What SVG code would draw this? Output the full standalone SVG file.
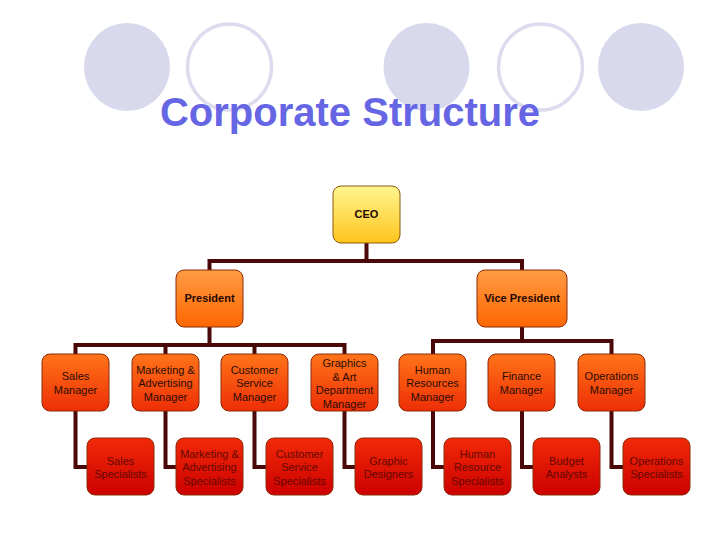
<svg xmlns="http://www.w3.org/2000/svg" width="720" height="540" viewBox="0 0 720 540">
<defs>
<linearGradient id="gCeo" x1="0" y1="0" x2="0" y2="1"><stop offset="0" stop-color="#fff690"/><stop offset="1" stop-color="#ffc41c"/></linearGradient>
<linearGradient id="gPres" x1="0" y1="0" x2="0" y2="1"><stop offset="0" stop-color="#ff9c44"/><stop offset="1" stop-color="#ff6600"/></linearGradient>
<linearGradient id="gMgr" x1="0" y1="0" x2="0" y2="1"><stop offset="0" stop-color="#ff7418"/><stop offset="1" stop-color="#ee2e06"/></linearGradient>
<linearGradient id="gSpec" x1="0" y1="0" x2="0" y2="1"><stop offset="0" stop-color="#f22a08"/><stop offset="1" stop-color="#cc0000"/></linearGradient>
</defs>
<style>
.dot{fill:#d9d9ee}
.ring{fill:#ffffff;stroke:#dcdcee;stroke-width:3.5}
.title{font-family:"Liberation Sans",Arial,sans-serif;font-weight:bold;font-size:40px;fill:#6666e4}
.box{stroke:#8a2a08;stroke-width:1}
.ceo{fill:url(#gCeo);stroke:#8a5a10}
.pres{fill:url(#gPres)}
.mgr{fill:url(#gMgr)}
.spec{fill:url(#gSpec)}
text.t{font-family:"Liberation Sans",Arial,sans-serif;font-size:11px;text-anchor:middle;fill:#2a0c00}
text.b{font-weight:bold;fill:#1e0800}
text.s{fill:#640800}
.con{fill:none;stroke:#4a0808;stroke-width:4}
</style>
<rect width="720" height="540" fill="#ffffff"/>
<g id="decor">
<ellipse class="dot" cx="127" cy="67" rx="43" ry="44"/>
<ellipse class="ring" cx="229.5" cy="67" rx="42" ry="43"/>
<ellipse class="dot" cx="426.5" cy="67" rx="43" ry="44"/>
<ellipse class="ring" cx="540.5" cy="67" rx="42" ry="43"/>
<ellipse class="dot" cx="641" cy="67" rx="43" ry="44"/>
</g>
<text class="title" x="350" y="126" text-anchor="middle">Corporate Structure</text>
<g id="connectors">
<path class="con" d="M366.5 243 V261 M209.5 261 H522 M209.5 259 V270 M522 259 V270"/>
<path class="con" d="M209.5 327 V345 M75.5 345 H344.5 M75.5 343 V354 M165.5 343 V354 M254.5 343 V354 M344.5 343 V354"/>
<path class="con" d="M522 327 V341 M433 341 H611.5 M433 339 V354 M611.5 339 V354"/>
<path class="con" d="M75.5 411 V467 H87 M165.5 411 V467 H176 M254.5 411 V467 H266 M344.5 411 V467 H355 M433 411 V467 H444 M522 411 V467 H533 M611.5 411 V467 H623"/>
</g>
<g id="ceo"><rect class="box ceo" x="333" y="186" width="67" height="57" rx="8"/><text class="t b" x="366.5" y="218">CEO</text></g>
<g id="president"><rect class="box pres" x="176" y="270" width="67" height="57" rx="8"/><text class="t b" x="209.5" y="302">President</text></g>
<g id="vice-president"><rect class="box pres" x="477" y="270" width="90" height="57" rx="8"/><text class="t b" x="522" y="302">Vice President</text></g>

<g id="sales-manager"><rect class="box mgr" x="42" y="354" width="67" height="57" rx="8"/><text class="t" x="75.5" y="380">Sales</text><text class="t" x="75.5" y="393.5">Manager</text></g>
<g id="marketing-manager"><rect class="box mgr" x="132" y="354" width="67" height="57" rx="8"/><text class="t" x="165.5" y="373.5">Marketing &amp;</text><text class="t" x="165.5" y="387">Advertising</text><text class="t" x="165.5" y="400.5">Manager</text></g>
<g id="customer-service-manager"><rect class="box mgr" x="221" y="354" width="67" height="57" rx="8"/><text class="t" x="254.5" y="373.5">Customer</text><text class="t" x="254.5" y="387">Service</text><text class="t" x="254.5" y="400.5">Manager</text></g>
<g id="graphics-manager"><rect class="box mgr" x="311" y="354" width="67" height="57" rx="8"/><text class="t" x="344.5" y="367">Graphics</text><text class="t" x="344.5" y="380.5">&amp; Art</text><text class="t" x="344.5" y="394">Department</text><text class="t" x="344.5" y="407.5">Manager</text></g>
<g id="hr-manager"><rect class="box mgr" x="399" y="354" width="67" height="57" rx="8"/><text class="t" x="432.5" y="373.5">Human</text><text class="t" x="432.5" y="387">Resources</text><text class="t" x="432.5" y="400.5">Manager</text></g>
<g id="finance-manager"><rect class="box mgr" x="488" y="354" width="67" height="57" rx="8"/><text class="t" x="521.5" y="380">Finance</text><text class="t" x="521.5" y="393.5">Manager</text></g>
<g id="operations-manager"><rect class="box mgr" x="578" y="354" width="67" height="57" rx="8"/><text class="t" x="611.5" y="380">Operations</text><text class="t" x="611.5" y="393.5">Manager</text></g>

<g id="sales-specialists"><rect class="box spec" x="87" y="438" width="67" height="57" rx="8"/><text class="t s" x="120.5" y="464.5">Sales</text><text class="t s" x="120.5" y="478">Specialists</text></g>
<g id="marketing-specialists"><rect class="box spec" x="176" y="438" width="67" height="57" rx="8"/><text class="t s" x="209.5" y="457.5">Marketing &amp;</text><text class="t s" x="209.5" y="471">Advertising</text><text class="t s" x="209.5" y="484.5">Specialists</text></g>
<g id="customer-service-specialists"><rect class="box spec" x="266" y="438" width="67" height="57" rx="8"/><text class="t s" x="299.5" y="457.5">Customer</text><text class="t s" x="299.5" y="471">Service</text><text class="t s" x="299.5" y="484.5">Specialists</text></g>
<g id="graphic-designers"><rect class="box spec" x="355" y="438" width="67" height="57" rx="8"/><text class="t s" x="388.5" y="464.5">Graphic</text><text class="t s" x="388.5" y="478">Designers</text></g>
<g id="hr-specialists"><rect class="box spec" x="444" y="438" width="67" height="57" rx="8"/><text class="t s" x="477.5" y="457.5">Human</text><text class="t s" x="477.5" y="471">Resource</text><text class="t s" x="477.5" y="484.5">Specialists</text></g>
<g id="budget-analysts"><rect class="box spec" x="533" y="438" width="67" height="57" rx="8"/><text class="t s" x="566.5" y="464.5">Budget</text><text class="t s" x="566.5" y="478">Analysts</text></g>
<g id="operations-specialists"><rect class="box spec" x="623" y="438" width="67" height="57" rx="8"/><text class="t s" x="656.5" y="464.5">Operations</text><text class="t s" x="656.5" y="478">Specialists</text></g>
</svg>
